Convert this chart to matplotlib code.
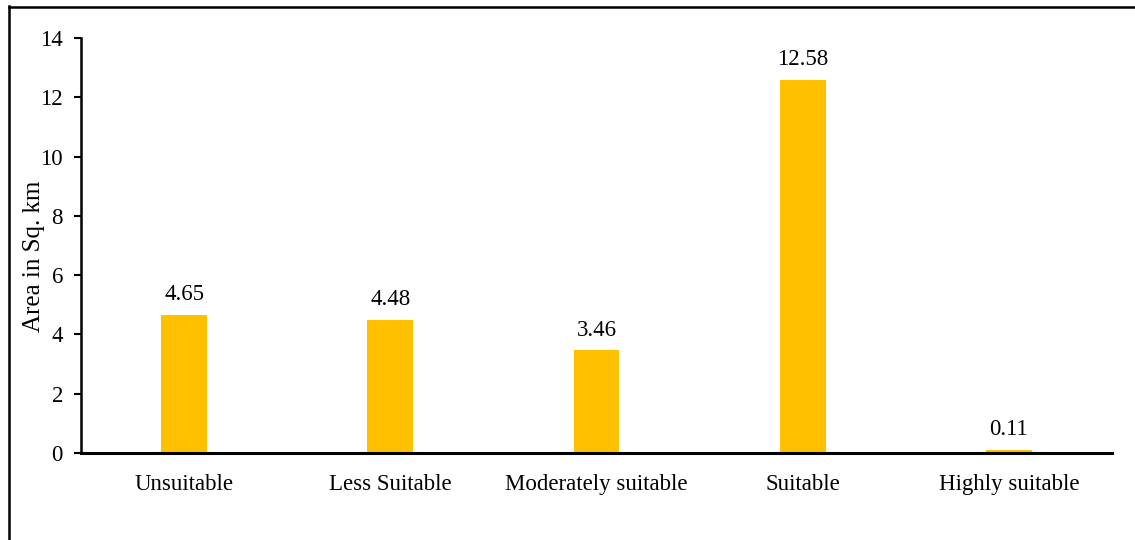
import matplotlib
matplotlib.use("Agg")
import matplotlib.pyplot as plt

categories = ["Unsuitable", "Less Suitable", "Moderately suitable", "Suitable", "Highly suitable"]
areas = [4.65, 4.48, 3.46, 12.58, 0.11]
y_ticks = [0, 2, 4, 6, 8, 10, 12, 14]

plt.rcParams["font.family"] = ["Liberation Serif", "DejaVu Serif"]
FS = 16.5

fig = plt.figure(figsize=(11.35, 5.4), dpi=100)
ax = fig.add_axes([81 / 1135, 1 - 453 / 540, (1112 - 81) / 1135, (453 - 38) / 540])

x = list(range(len(categories)))
ax.bar(x, areas, width=0.223, color="#FFC000")
for xi, v in zip(x, areas):
    ax.annotate(f"{v:.2f}", (xi, v), xytext=(0, 7), textcoords="offset points",
                ha="center", va="bottom", fontsize=FS)

ax.set_xlim(-0.5, len(categories) - 0.5)
ax.set_ylim(0, 14)
ax.set_yticks(y_ticks)
ax.set_xticks(x)
ax.set_xticklabels(categories)
ax.tick_params(axis="y", direction="out", length=5, width=1.5, labelsize=FS, pad=8)
ax.tick_params(axis="x", length=0, labelsize=FS, pad=15)
for s in ("top", "right"):
    ax.spines[s].set_visible(False)
ax.spines["left"].set_linewidth(1.8)
ax.spines["bottom"].set_linewidth(2.2)
ax.set_ylabel("Area in Sq. km", fontsize=18)
ax.yaxis.set_label_coords(-0.035, 0.475)

# outer frame around the chart area (left and top edges)
fig.add_artist(plt.Line2D([9 / 1135, 9 / 1135], [0, 1 - 6 / 540], transform=fig.transFigure,
                          color="black", linewidth=1.8))
fig.add_artist(plt.Line2D([9 / 1135, 1], [1 - 7 / 540, 1 - 7 / 540], transform=fig.transFigure,
                          color="black", linewidth=1.8))

fig.savefig("out.png", dpi=100)
